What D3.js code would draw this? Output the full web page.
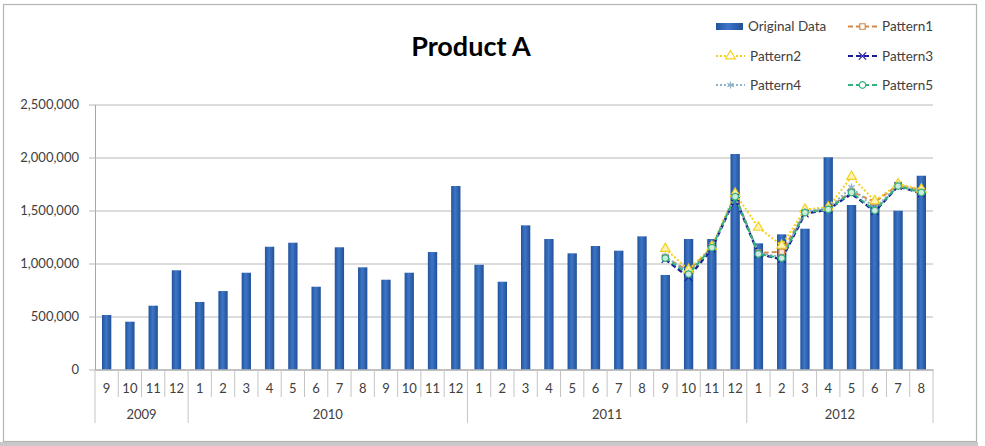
<!DOCTYPE html>
<html>
<head>
    <style>
        body {
            margin: 0;
            padding: 0;
            background-color: white;
            font-family: Lato, "Open Sans", sans-serif;
        }
        svg text {
            fill: #404040;
        }
    </style>
    <script src="https://d3js.org/d3.v7.min.js"></script>
</head>
<body>
<svg id="chart" width="985" height="446"></svg>
<script>
    // data
    var years = ["2009", "2010", "2011", "2012"];
    var yearMonths = [
        [9, 10, 11, 12],
        [1, 2, 3, 4, 5, 6, 7, 8, 9, 10, 11, 12],
        [1, 2, 3, 4, 5, 6, 7, 8, 9, 10, 11, 12],
        [1, 2, 3, 4, 5, 6, 7, 8]
    ];
    var originalData = [
        514000, 451000, 602000, 936000,
        637000, 740000, 913000, 1158000, 1196000, 781000, 1153000, 964000, 847000, 913000, 1108000, 1731000,
        988000, 828000, 1360000, 1231000, 1096000, 1165000, 1121000, 1256000, 892000, 1231000, 1231000, 2033000,
        1190000, 1275000, 1328000, 2002000, 1552000, 1580000, 1498000, 1828000
    ];
    // patterns start at 2011-9
    var patternStart = 24;
    var pattern1 = [1060000, 930000, 1150000, 1640000, 1100000, 1110000, 1480000, 1520000, 1680000, 1580000, 1740000, 1690000];
    var pattern2 = [1140000, 940000, 1160000, 1660000, 1340000, 1170000, 1510000, 1530000, 1820000, 1590000, 1750000, 1700000];
    var pattern3 = [1040000, 870000, 1140000, 1620000, 1090000, 1040000, 1470000, 1510000, 1660000, 1490000, 1730000, 1660000];
    var pattern4 = [1070000, 910000, 1150000, 1630000, 1100000, 1060000, 1490000, 1520000, 1720000, 1520000, 1740000, 1670000];
    var pattern5 = [1050000, 900000, 1150000, 1630000, 1090000, 1050000, 1480000, 1510000, 1670000, 1500000, 1730000, 1670000];
    var yTicks = [0, 500000, 1000000, 1500000, 2000000, 2500000];

    var categories = [];
    years.forEach(function(yr, i) {
        yearMonths[i].forEach(function(m) { categories.push(yr + "-" + m); });
    });

    var svg = d3.select("#chart");

    // outer frame
    svg.append("rect").attr("x", 0).attr("y", 442).attr("width", 978).attr("height", 4).attr("fill", "#c9c9c9");
    svg.append("rect").attr("x", 3.5).attr("y", 4.5).attr("width", 973).attr("height", 437)
        .attr("fill", "white").attr("stroke", "#b4b4b4").attr("stroke-width", 1.2);

    var plotLeft = 95, plotRight = 933, plotTop = 104.5, plotBottom = 369.5;

    var x = d3.scaleBand().domain(categories).range([plotLeft, plotRight]).paddingInner(0.6).paddingOuter(0.3);
    var y = d3.scaleLinear().domain([0, 2500000]).range([plotBottom, plotTop]);

    // gradient for bars
    var defs = svg.append("defs");
    var grad = defs.append("linearGradient").attr("id", "barGrad").attr("x1", 0).attr("x2", 1).attr("y1", 0).attr("y2", 0);
    grad.append("stop").attr("offset", "0%").attr("stop-color", "#22549c");
    grad.append("stop").attr("offset", "45%").attr("stop-color", "#3d75c8");
    grad.append("stop").attr("offset", "100%").attr("stop-color", "#215096");

    // y axis + gridlines
    var yAxis = svg.append("g")
        .attr("transform", "translate(" + plotLeft + ",0)")
        .call(d3.axisLeft(y).tickValues(yTicks).tickSizeInner(-(plotRight - plotLeft)).tickSizeOuter(0)
            .tickPadding(16).tickFormat(d3.format(",")));
    yAxis.select(".domain").attr("stroke", "#a6a6a6");
    yAxis.selectAll(".tick line").attr("stroke", "#b8b8b8").attr("x1", -6);
    yAxis.selectAll(".tick text").attr("font-size", "13px").attr("font-family", "Lato, sans-serif").attr("fill", "#404040");

    // bars
    svg.append("g").selectAll("rect")
        .data(originalData)
        .enter().append("rect")
        .attr("x", function(d, i) { return x(categories[i]); })
        .attr("y", function(d) { return y(d); })
        .attr("width", x.bandwidth())
        .attr("height", function(d) { return plotBottom - y(d); })
        .attr("fill", "url(#barGrad)");

    // x axis (months)
    var xAxis = svg.append("g")
        .attr("transform", "translate(0," + plotBottom + ")")
        .call(d3.axisBottom(x).tickSize(0).tickPadding(14).tickFormat(function(d) { return d.split("-")[1]; }));
    xAxis.select(".domain").attr("stroke", "#a6a6a6");
    xAxis.selectAll(".tick text").attr("font-size", "13px").attr("font-family", "Lato, sans-serif").attr("fill", "#404040");

    // category separators
    var yearStarts = [0];
    yearMonths.forEach(function(ms, i) { yearStarts.push(yearStarts[i] + ms.length); });
    var step = x.step();
    var x0 = x.range()[0];
    var seps = d3.range(categories.length + 1);
    svg.append("g").selectAll("line")
        .data(seps)
        .enter().append("line")
        .attr("x1", function(i) { return x0 + i * step; })
        .attr("x2", function(i) { return x0 + i * step; })
        .attr("y1", plotBottom)
        .attr("y2", function(i) { return yearStarts.indexOf(i) >= 0 ? 423 : 397; })
        .attr("stroke", "#c4c4c4")
        .attr("stroke-width", 1);

    // year labels
    svg.append("g").selectAll("text")
        .data(years)
        .enter().append("text")
        .attr("x", function(d, i) {
            var a = x(categories[yearStarts[i]]);
            var b = x(categories[yearStarts[i + 1] - 1]) + x.bandwidth();
            return (a + b) / 2;
        })
        .attr("y", 419)
        .attr("text-anchor", "middle")
        .attr("font-size", "13px")
        .text(function(d) { return d; });

    // pattern lines
    var symX = d3.symbolTimes || d3.symbolX || d3.symbolCross;
    var symAst = d3.symbolAsterisk || d3.symbolStar;
    var patterns = [
        { name: "Pattern1", values: pattern1, color: "#d4894a", dash: "5,3", symbol: d3.symbolSquare, size: 30, fill: "#fbe7d6", width: 2 },
        { name: "Pattern2", values: pattern2, color: "#f2d21e", dash: "2,2", symbol: d3.symbolTriangle, size: 40, fill: "#fdf3b8", width: 2 },
        { name: "Pattern3", values: pattern3, color: "#1d1d9a", dash: "5,3", symbol: symX, size: 36, fill: "none", width: 2.4 },
        { name: "Pattern4", values: pattern4, color: "#8fb4c9", dash: "2,2", symbol: symAst, size: 36, fill: "none", width: 2 },
        { name: "Pattern5", values: pattern5, color: "#2fb37a", dash: "5,3", symbol: d3.symbolCircle, size: 34, fill: "#cfe9dd", width: 2 }
    ];
    var cx = function(i) { return x(categories[patternStart + i]) + x.bandwidth() / 2; };

    var line = d3.line()
        .x(function(d, i) { return cx(i); })
        .y(function(d) { return y(d); });

    patterns.forEach(function(p) {
        svg.append("path")
            .datum(p.values)
            .attr("d", line)
            .attr("fill", "none")
            .attr("stroke", p.color)
            .attr("stroke-width", p.width)
            .attr("stroke-dasharray", p.dash);
    });
    patterns.forEach(function(p) {
        svg.append("g").selectAll("path")
            .data(p.values)
            .enter().append("path")
            .attr("transform", function(d, i) { return "translate(" + cx(i) + "," + y(d) + ")"; })
            .attr("d", d3.symbol().type(p.symbol).size(p.size))
            .attr("fill", p.fill)
            .attr("stroke", p.color)
            .attr("stroke-width", 1.2);
    });

    // title
    svg.append("text")
        .attr("x", 471)
        .attr("y", 56)
        .attr("text-anchor", "middle")
        .attr("font-size", "27px")
        .attr("font-weight", "bold")
        .style("fill", "#000")
        .text("Product A");

    // legend
    var legend = svg.append("g").attr("font-size", "13.5px");
    legend.append("rect").attr("x", 716).attr("y", 23).attr("width", 27).attr("height", 7).attr("fill", "url(#barGrad)");
    legend.append("text").attr("x", 748).attr("y", 31).text("Original Data");

    var legendPos = [
        { x: 848, y: 26.5 },
        { x: 716, y: 56 },
        { x: 848, y: 56 },
        { x: 716, y: 85 },
        { x: 848, y: 85 }
    ];
    patterns.forEach(function(p, i) {
        var pos = legendPos[i];
        legend.append("line")
            .attr("x1", pos.x).attr("x2", pos.x + 29)
            .attr("y1", pos.y).attr("y2", pos.y)
            .attr("stroke", p.color).attr("stroke-width", 2).attr("stroke-dasharray", p.dash);
        legend.append("path")
            .attr("transform", "translate(" + (pos.x + 14.5) + "," + pos.y + ")")
            .attr("d", d3.symbol().type(p.symbol).size(p.size))
            .attr("fill", p.fill === "none" ? "none" : "white")
            .attr("stroke", p.color).attr("stroke-width", 1.2);
        legend.append("text").attr("x", pos.x + 34).attr("y", pos.y + 4.5).text(p.name);
    });
</script>
</body>
</html>
